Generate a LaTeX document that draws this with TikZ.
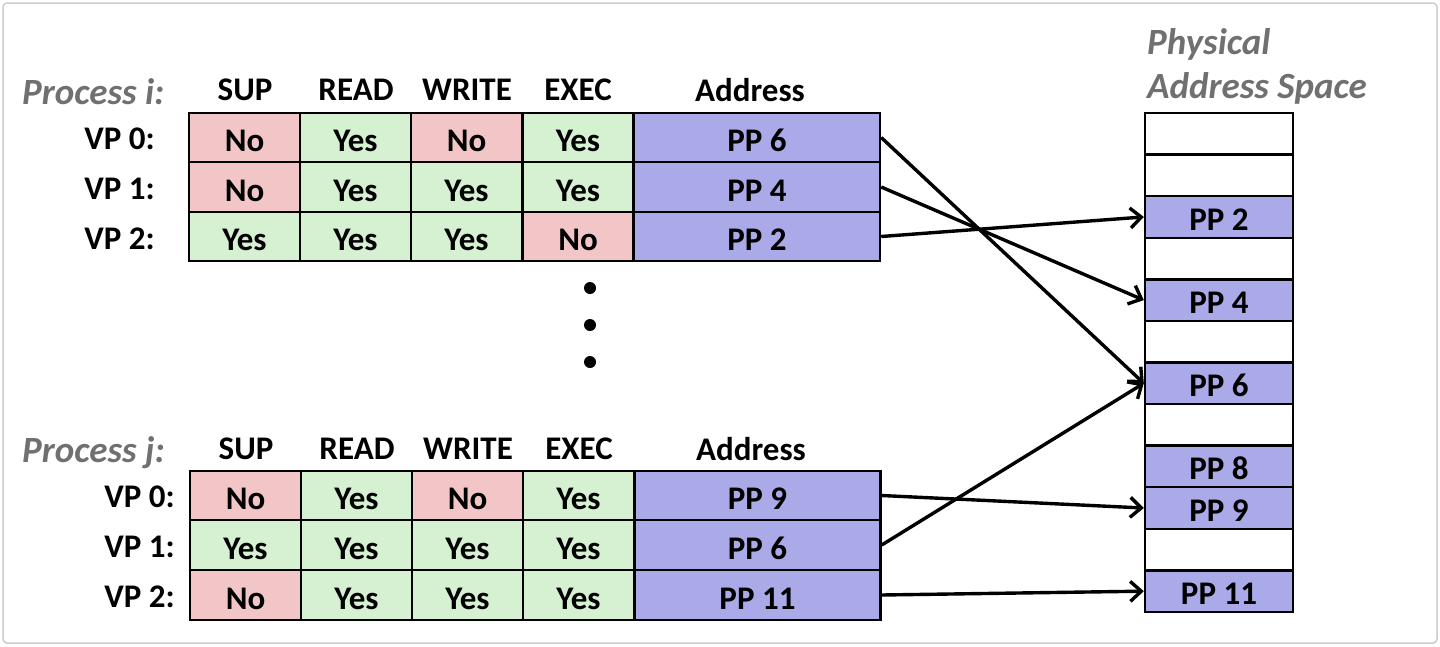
\documentclass[tikz,border=0pt]{standalone}
\usepackage{fontspec}
\setmainfont{Carlito}
\usetikzlibrary{arrows.meta}
\definecolor{nocol}{RGB}{242,198,198}
\definecolor{yescol}{RGB}{214,240,210}
\definecolor{addrcol}{RGB}{170,170,232}
\definecolor{titlecol}{RGB}{112,112,112}
\definecolor{framecol}{RGB}{205,205,205}
\tikzset{
  cell/.style={draw=black, line width=2.4pt, inner sep=0pt, minimum height=49.5pt,
    text height=28pt, text depth=0pt,
    font=\fontsize{33}{38}\selectfont\bfseries},
  no/.style={cell, fill=nocol, minimum width=111pt},
  yes/.style={cell, fill=yescol, minimum width=111pt},
  addr/.style={cell, fill=addrcol, minimum width=246pt},
  phys/.style={draw=black, line width=2.4pt, inner sep=0pt, minimum width=148pt, minimum height=41.6pt,
    text height=27pt, text depth=0pt,
    font=\fontsize{33}{38}\selectfont\bfseries},
  hdr/.style={font=\fontsize{33}{38}\selectfont\bfseries, inner sep=0pt},
  title/.style={font=\fontsize{37}{44}\selectfont\bfseries\itshape, text=titlecol, inner sep=0pt},
  map/.style={line width=3.4pt, -{Straight Barb[length=11pt,width=20pt,line width=3.4pt]}},
}
\begin{document}
\begin{tikzpicture}[x=1pt,y=-1pt]
\useasboundingbox (0,0) rectangle (1440,646);
\draw[framecol, line width=1.5pt, rounded corners=4pt] (3,3) rectangle (1437,643);

% ---- Process i page table ----
\node[title, anchor=west] (pi) at (22,92) {Process i:};
\foreach \t/\x in {SUP/245, READ/356, WRITE/467, EXEC/578, Address/750}
  \node[hdr] (hi\t) at (\x,90) {\t};
\foreach \r/\y in {0/139, 1/189, 2/239}
  \node[hdr, anchor=east] (vi\r) at (155,\y) {VP \r:};
% row VP 0
\node[no]  (i0a) at (244.5,137.5) {No};
\node[yes] (i0b) at (355.5,137.5) {Yes};
\node[no]  (i0c) at (466.5,137.5) {No};
\node[yes] (i0d) at (578,137.5) {Yes};
\node[addr] (ia0) at (757,137.5) {PP 6};
% row VP 1
\node[no]  (i1a) at (244.5,187) {No};
\node[yes] (i1b) at (355.5,187) {Yes};
\node[yes] (i1c) at (466.5,187) {Yes};
\node[yes] (i1d) at (578,187) {Yes};
\node[addr] (ia1) at (757,187) {PP 4};
% row VP 2
\node[yes] (i2a) at (244.5,236.5) {Yes};
\node[yes] (i2b) at (355.5,236.5) {Yes};
\node[yes] (i2c) at (466.5,236.5) {Yes};
\node[no]  (i2d) at (578,236.5) {No};
\node[addr] (ia2) at (757,236.5) {PP 2};

% ---- ellipsis ----
\foreach \k/\y in {1/288, 2/325, 3/362}
  \fill (590,\y) circle (6pt);

% ---- Process j page table ----
\node[title, anchor=west] (pj) at (22,453) {Process j:};
\foreach \t/\x in {SUP/246, READ/357, WRITE/468, EXEC/579, Address/751}
  \node[hdr] (hj\t) at (\x,449) {\t};
\foreach \r/\y in {0/497, 1/547, 2/597}
  \node[hdr, anchor=east] (vj\r) at (175,\y) {VP \r:};
% row VP 0
\node[no]  (j0a) at (245.5,495.5) {No};
\node[yes] (j0b) at (356.5,495.5) {Yes};
\node[no]  (j0c) at (467.5,495.5) {No};
\node[yes] (j0d) at (578.5,495.5) {Yes};
\node[addr] (ja0) at (757.5,495.5) {PP 9};
% row VP 1
\node[yes] (j1a) at (245.5,545) {Yes};
\node[yes] (j1b) at (356.5,545) {Yes};
\node[yes] (j1c) at (467.5,545) {Yes};
\node[yes] (j1d) at (578.5,545) {Yes};
\node[addr] (ja1) at (757.5,545) {PP 6};
% row VP 2
\node[no]  (j2a) at (245.5,595) {No};
\node[yes] (j2b) at (356.5,595) {Yes};
\node[yes] (j2c) at (467.5,595) {Yes};
\node[yes] (j2d) at (578.5,595) {Yes};
\node[addr] (ja2) at (757.5,595) {PP 11};

% ---- physical address space ----
\node[title, anchor=west] (ptitle1) at (1147,44) {Physical};
\node[title, anchor=west] (ptitle2) at (1147,88) {Address Space};
\foreach \k/\lab/\col in {0//white, 1//white, 2/PP 2/addrcol, 3//white, 4/PP 4/addrcol,
    5//white, 6/PP 6/addrcol, 7//white, 8/PP 8/addrcol, 9/PP 9/addrcol, 10//white, 11/PP 11/addrcol}
  \node[phys, fill=\col] (p\k) at (1219, 113+41.58*\k+20.79) {\lab};

% ---- mappings ----
\draw[map] (ia0.east) -- (p6.west);
\draw[map] (ia1.east) -- (p4.west);
\draw[map] (ia2.east) -- (p2.west);
\draw[map] (ja0.east) -- (p9.west);
\draw[map] (ja1.east) -- (p6.west);
\draw[map] (ja2.east) -- (p11.west);
\end{tikzpicture}
\end{document}
